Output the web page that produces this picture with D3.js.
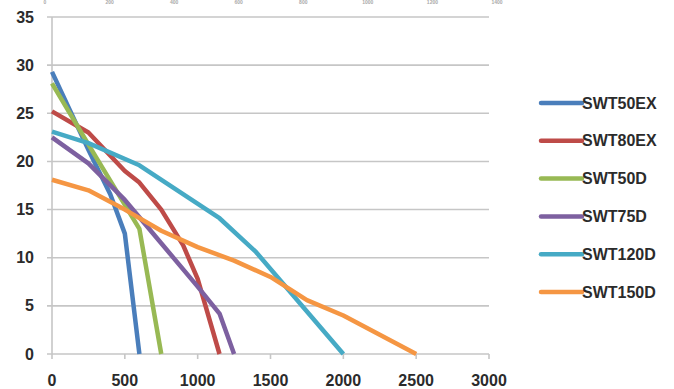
<!DOCTYPE html>
<html>
<head>
<meta charset="utf-8">
<script src="https://cdn.jsdelivr.net/npm/d3@7"></script>
<style>
  html, body { margin: 0; padding: 0; background: #fff; overflow: hidden; }
  svg { display: block; }
</style>
</head>
<body>
<svg id="chart" width="674" height="389"></svg>
<script>
// ---- data ----
const seriesNames = ["SWT50EX", "SWT80EX", "SWT50D", "SWT75D", "SWT120D", "SWT150D"];
const seriesColors = ["#4a7ebb", "#be4b48", "#98b954", "#7d60a0", "#46aac5", "#f59643"];

const flowSWT50EX  = [0, 250, 400, 500, 600];
const headSWT50EX  = [29.3, 21.2, 16.6, 12.5, 0];
const flowSWT80EX  = [0, 250, 500, 600, 750, 900, 1000, 1150];
const headSWT80EX  = [25.2, 23.0, 19.0, 17.8, 15.0, 11.3, 7.8, 0];
const flowSWT50D   = [0, 300, 600, 750];
const headSWT50D   = [28.1, 20.5, 13.0, 0];
const flowSWT75D   = [0, 250, 500, 750, 1000, 1150, 1250];
const headSWT75D   = [22.5, 19.8, 16.0, 11.5, 7.0, 4.2, 0];
const flowSWT120D  = [0, 250, 600, 1150, 1400, 2000];
const headSWT120D  = [23.1, 21.9, 19.6, 14.1, 10.6, 0];
const flowSWT150D  = [0, 250, 500, 750, 1000, 1250, 1500, 1750, 2000, 2500];
const headSWT150D  = [18.1, 17.0, 15.0, 12.8, 11.1, 9.7, 8.0, 5.6, 4.0, 0];

const flows = [flowSWT50EX, flowSWT80EX, flowSWT50D, flowSWT75D, flowSWT120D, flowSWT150D];
const heads = [headSWT50EX, headSWT80EX, headSWT50D, headSWT75D, headSWT120D, headSWT150D];

const xTicks = [0, 500, 1000, 1500, 2000, 2500, 3000];
const yTicks = [0, 5, 10, 15, 20, 25, 30, 35];
// remnant labels of a previous chart at the very top edge
const topLabels = ["0", "200", "400", "600", "800", "1000", "1200", "1400"];

// ---- layout ----
const svg = d3.select("#chart");
const x = d3.scaleLinear().domain([0, 3000]).range([52, 489]);
const y = d3.scaleLinear().domain([0, 35]).range([354, 17]);
const textColor = "#2b2b2b";
const font = "'Liberation Sans', Arial, sans-serif";

// top remnant labels (tiny, faint)
const topX = d3.scalePoint().domain(topLabels).range([45, 497]);
svg.append("g").selectAll("text").data(topLabels).join("text")
  .attr("x", d => topX(d)).attr("y", 4)
  .attr("text-anchor", "middle")
  .attr("font-family", font).attr("font-size", 5).attr("font-weight", "bold")
  .attr("fill", "#aaa").text(d => d);

// gridlines
svg.append("g").selectAll("line").data(yTicks).join("line")
  .attr("x1", 47).attr("x2", 489)
  .attr("y1", d => y(d)).attr("y2", d => y(d))
  .attr("stroke", "#c6c6c6").attr("stroke-width", 1.6);

// vertical axis line
svg.append("line").attr("x1", x(0)).attr("x2", x(0)).attr("y1", y(35)).attr("y2", y(0))
  .attr("stroke", "#c6c6c6").attr("stroke-width", 1.6);

// x tick marks
svg.append("g").selectAll("line").data(xTicks).join("line")
  .attr("x1", d => x(d)).attr("x2", d => x(d))
  .attr("y1", y(0)).attr("y2", y(0) + 5)
  .attr("stroke", "#c6c6c6").attr("stroke-width", 1.6);

// y labels
svg.append("g").selectAll("text").data(yTicks).join("text")
  .attr("x", 34).attr("y", d => y(d) + 5.5)
  .attr("text-anchor", "end")
  .attr("font-family", font).attr("font-size", 16).attr("font-weight", "bold")
  .attr("fill", textColor).text(d => d);

// x labels
svg.append("g").selectAll("text").data(xTicks).join("text")
  .attr("x", d => x(d)).attr("y", 386)
  .attr("text-anchor", "middle")
  .attr("font-family", font).attr("font-size", 16).attr("font-weight", "bold")
  .attr("fill", textColor).text(d => d);

// lines
const line = d3.line().x(d => x(d[0])).y(d => y(d[1])).curve(d3.curveLinear);
seriesNames.forEach((name, i) => {
  const pts = flows[i].map((f, j) => [f, heads[i][j]]);
  svg.append("path").datum(pts)
    .attr("d", line)
    .attr("fill", "none")
    .attr("stroke", seriesColors[i])
    .attr("stroke-width", 4.5)
    .attr("stroke-linejoin", "round")
    .attr("stroke-linecap", "butt");
});

// legend
const legY = d3.scalePoint().domain(seriesNames).range([103, 292]);
const leg = svg.append("g");
leg.selectAll("line").data(seriesNames).join("line")
  .attr("x1", 541).attr("x2", 582)
  .attr("y1", d => legY(d)).attr("y2", d => legY(d))
  .attr("stroke", (d, i) => seriesColors[i]).attr("stroke-width", 4.5)
  .attr("stroke-linecap", "round");
leg.selectAll("text").data(seriesNames).join("text")
  .attr("x", 582).attr("y", d => legY(d) + 5.5)
  .attr("font-family", font).attr("font-size", 16).attr("font-weight", "bold")
  .attr("fill", textColor).text(d => d);
</script>
</body>
</html>
